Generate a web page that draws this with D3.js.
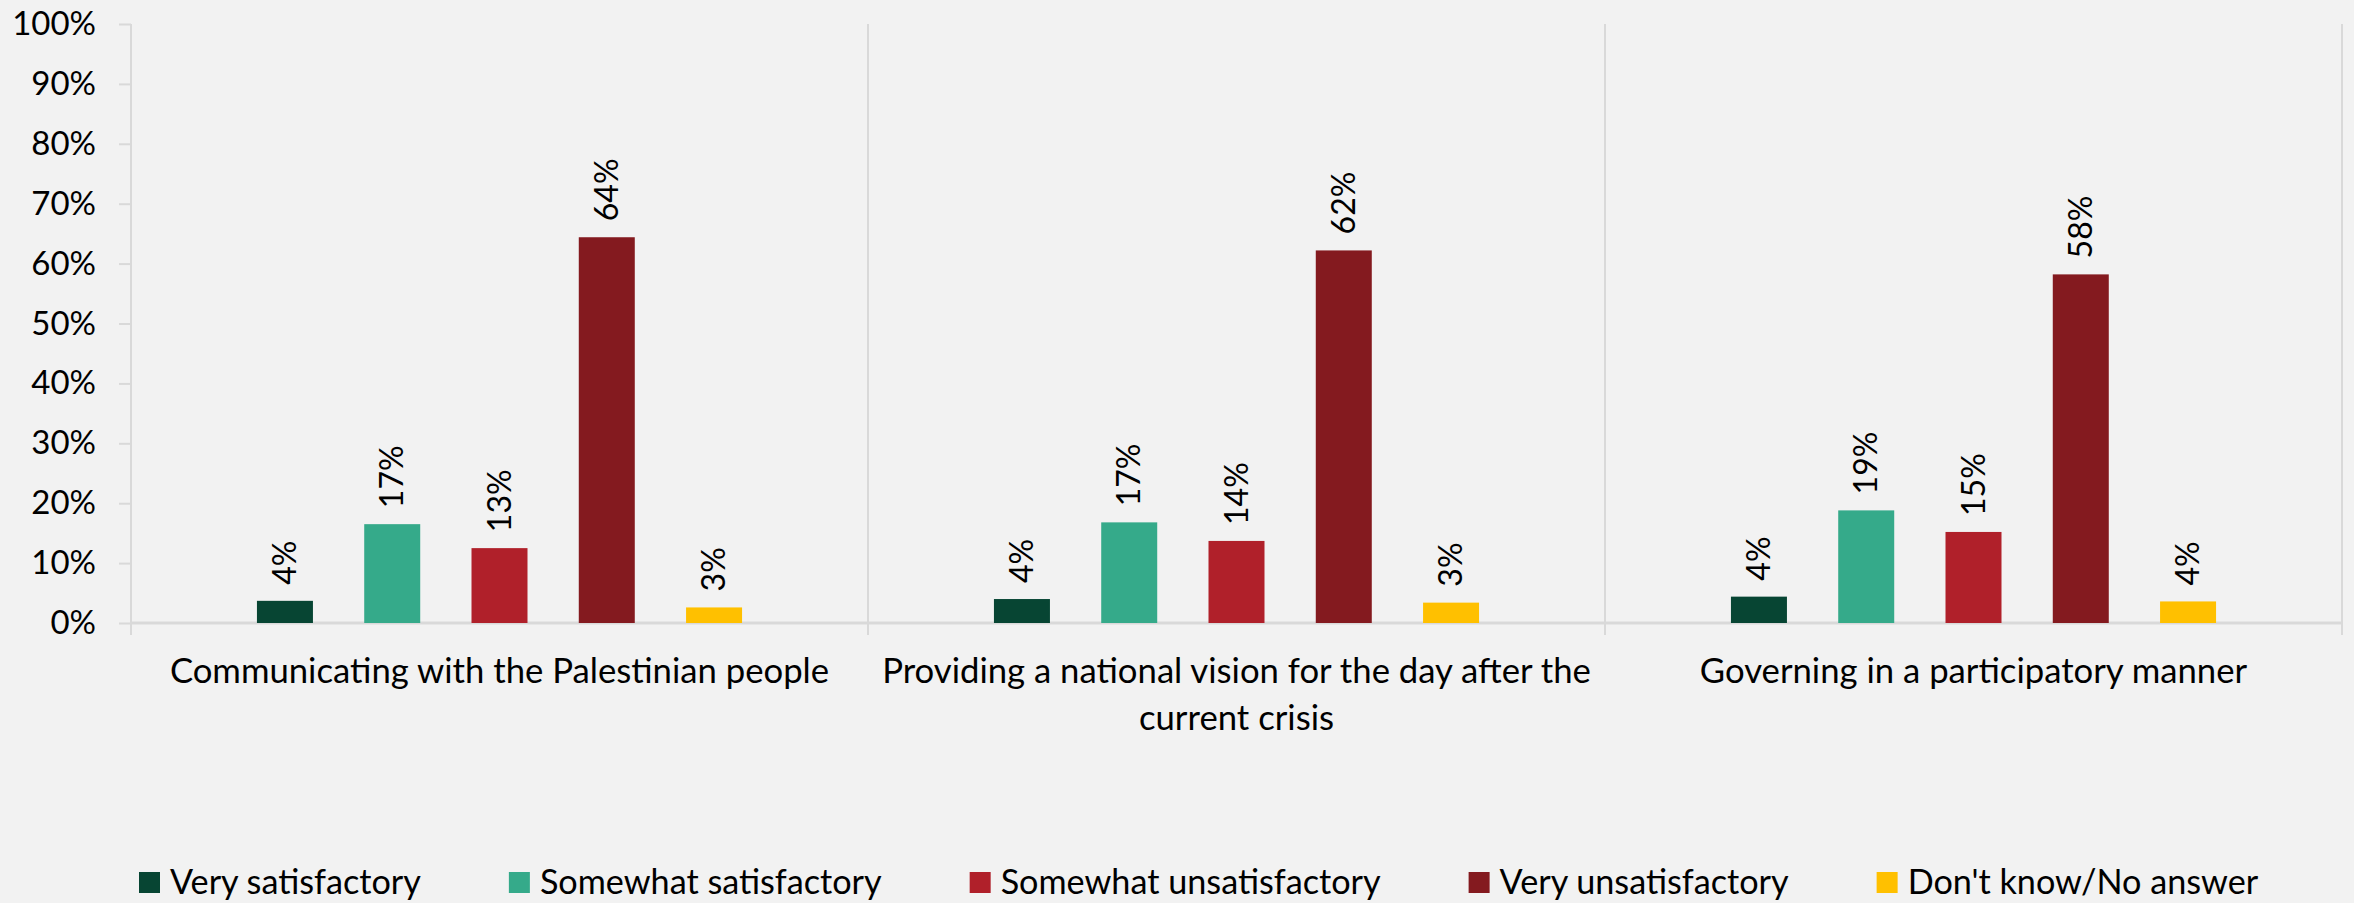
<!DOCTYPE html>
<html>
<head>
<meta charset="utf-8">
<script src="https://cdn.jsdelivr.net/npm/d3@7"></script>
<style>
  html, body { margin: 0; padding: 0; background: #f2f2f2; }
  svg { display: block; }
</style>
</head>
<body>
<div id="chart"></div>
<script>
// categories along the x axis
const categories = [
    "Communicating with the Palestinian people",
    "Providing a national vision for the day after the current crisis",
    "Governing in a participatory manner"
];

// series names (legend order)
const seriesNames = ["Very satisfactory", "Somewhat satisfactory", "Somewhat unsatisfactory", "Very unsatisfactory", "Don't know/No answer"];
const seriesColors = ["#074533", "#35aa8a", "#b0202a", "#841a1f", "#ffc000"];

// values in percent, one per category
const verySatisfactory = [3.7, 4.0, 4.4];
const somewhatSatisfactory = [16.5, 16.8, 18.8];
const somewhatUnsatisfactory = [12.5, 13.7, 15.2];
const veryUnsatisfactory = [64.4, 62.2, 58.2];
const dontKnow = [2.6, 3.4, 3.6];

const seriesValues = [verySatisfactory, somewhatSatisfactory, somewhatUnsatisfactory, veryUnsatisfactory, dontKnow];

const yTicks = [0, 10, 20, 30, 40, 50, 60, 70, 80, 90, 100];

// layout
const width = 2354, height = 903;
const plotLeft = 131, plotRight = 2342, plotTop = 24, plotBottom = 623;
const gridColor = "#d9d9d9";
const textFont = "Lato, 'Open Sans', sans-serif";

const svg = d3.select("#chart").append("svg")
    .attr("width", width)
    .attr("height", height);

svg.append("rect")
    .attr("width", width)
    .attr("height", height)
    .attr("fill", "#f2f2f2");

const x0 = d3.scaleBand()
    .domain(categories)
    .range([plotLeft, plotRight])
    .padding(0);

const x1 = d3.scaleBand()
    .domain(seriesNames)
    .range([0, x0.bandwidth()])
    .paddingInner(0.478)
    .paddingOuter(1.174);

const y = d3.scaleLinear()
    .domain([0, 100])
    .range([plotBottom, plotTop]);

// y axis: ticks + labels
const yAxis = svg.append("g")
    .attr("transform", `translate(${plotLeft},0)`)
    .call(d3.axisLeft(y).tickValues(yTicks).tickSize(12).tickPadding(23).tickFormat(d => d + "%"));

yAxis.select(".domain").remove();
yAxis.selectAll(".tick line").attr("stroke", gridColor).attr("stroke-width", 2);
yAxis.selectAll(".tick text")
    .attr("fill", "#000")
    .style("font-family", textFont)
    .style("font-size", "33px");

// category separators (full-height, also the y axis line)
const bounds = [plotLeft].concat(categories.map(c => x0(c) + x0.bandwidth()));
svg.selectAll(".sep")
    .data(bounds)
    .enter().append("line")
    .attr("class", "sep")
    .attr("x1", d => d).attr("x2", d => d)
    .attr("y1", plotTop).attr("y2", plotBottom + 12)
    .attr("stroke", gridColor)
    .attr("stroke-width", 2);

// baseline
svg.append("line")
    .attr("x1", plotLeft).attr("x2", plotRight)
    .attr("y1", y(0)).attr("y2", y(0))
    .attr("stroke", gridColor)
    .attr("stroke-width", 3);

// bars
const bars = [];
categories.forEach((cat, ci) => {
    seriesNames.forEach((s, si) => {
        bars.push({ cat: cat, series: s, value: seriesValues[si][ci], color: seriesColors[si] });
    });
});

svg.selectAll(".bar")
    .data(bars)
    .enter().append("rect")
    .attr("class", "bar")
    .attr("x", d => x0(d.cat) + x1(d.series))
    .attr("y", d => y(d.value))
    .attr("width", x1.bandwidth())
    .attr("height", d => y(0) - y(d.value))
    .attr("fill", d => d.color);

// rotated value labels
svg.selectAll(".vlabel")
    .data(bars)
    .enter().append("text")
    .attr("class", "vlabel")
    .attr("transform", d => `translate(${x0(d.cat) + x1(d.series) + x1.bandwidth() / 2},${y(d.value) - 16}) rotate(-90)`)
    .attr("dy", "0.35em")
    .attr("text-anchor", "start")
    .style("font-family", textFont)
    .style("font-size", "32px")
    .attr("fill", "#000")
    .text(d => Math.round(d.value) + "%");

// category labels, wrapped to the band width
function wrapLines(text, maxWidth, fontSize) {
    const tmp = svg.append("text").style("font-family", textFont).style("font-size", fontSize + "px");
    const words = text.split(" ");
    const lines = [];
    let line = [];
    words.forEach(w => {
        line.push(w);
        tmp.text(line.join(" "));
        if (tmp.node().getComputedTextLength() > maxWidth && line.length > 1) {
            line.pop();
            lines.push(line.join(" "));
            line = [w];
        }
    });
    lines.push(line.join(" "));
    tmp.remove();
    return lines;
}

const catFontSize = 34.7;
categories.forEach(cat => {
    const lines = wrapLines(cat, x0.bandwidth() - 6, catFontSize);
    const t = svg.append("text")
        .attr("text-anchor", "middle")
        .style("font-family", textFont)
        .style("font-size", catFontSize + "px")
        .attr("fill", "#000");
    lines.forEach((ln, i) => {
        t.append("tspan")
            .attr("x", x0(cat) + x0.bandwidth() / 2)
            .attr("y", 683 + i * 47)
            .text(ln);
    });
});

// legend
const legend = svg.append("g").attr("class", "legend");
let lx = 139;
seriesNames.forEach((s, i) => {
    legend.append("rect")
        .attr("x", lx)
        .attr("y", 872)
        .attr("width", 21)
        .attr("height", 21)
        .attr("fill", seriesColors[i]);
    const t = legend.append("text")
        .attr("x", lx + 31)
        .attr("y", 894)
        .style("font-family", textFont)
        .style("font-size", "34.2px")
        .attr("fill", "#000")
        .text(s);
    lx += 31 + t.node().getComputedTextLength() + 88;
});
</script>
</body>
</html>
